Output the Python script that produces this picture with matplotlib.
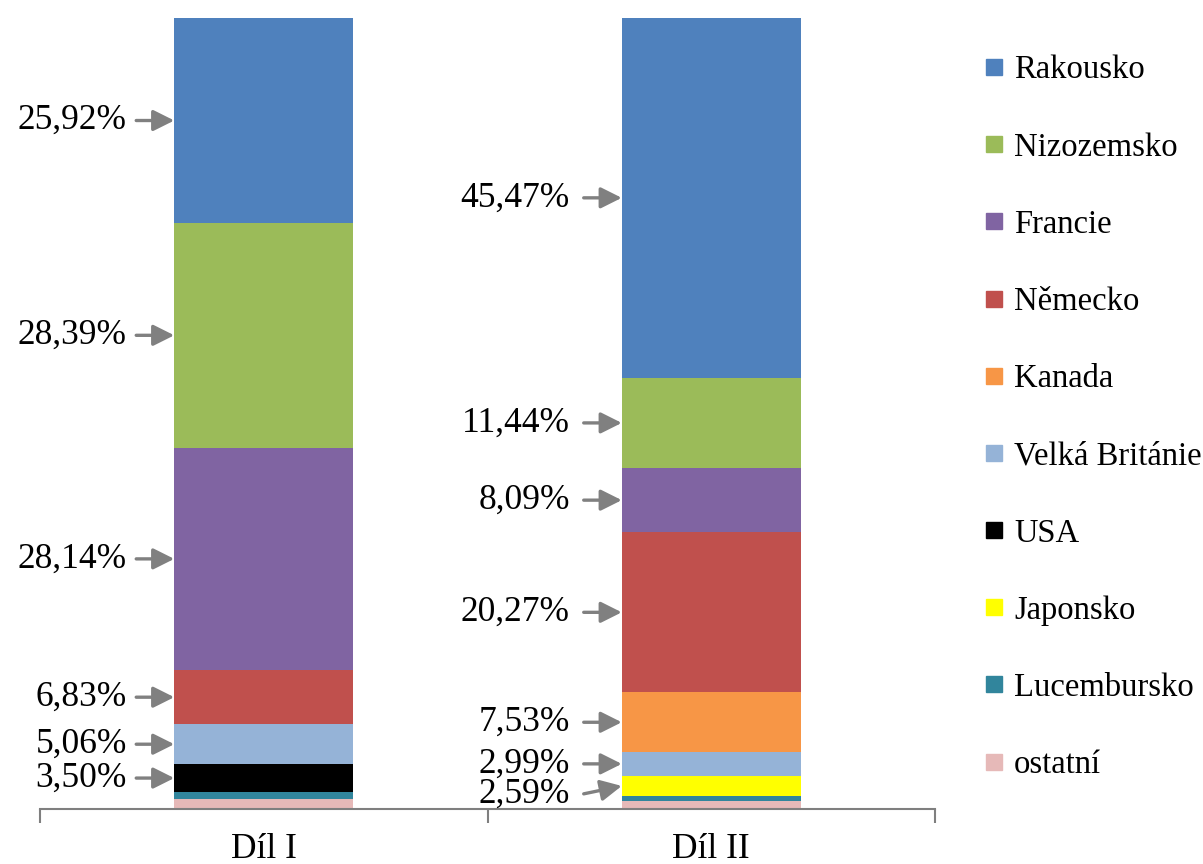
import matplotlib
matplotlib.use("Agg")
import matplotlib.pyplot as plt
from matplotlib.lines import Line2D

plt.rcParams["font.family"] = ["Liberation Serif", "DejaVu Serif"]

categories = ["Díl I", "Díl II"]
countries = ["Rakousko", "Nizozemsko", "Francie", "Německo", "Kanada",
             "Velká Británie", "USA", "Japonsko", "Lucembursko", "ostatní"]
colors = ["#4F81BD", "#9BBB59", "#8064A2", "#C0504D", "#F79646",
          "#95B3D7", "#000000", "#FFFF00", "#31859C", "#E6B9B8"]
# shares in %, stacked from top (Rakousko) to bottom (ostatní)
dil1 = [25.92, 28.39, 28.14, 6.83, 0.0, 5.06, 3.50, 0.0, 0.90, 1.26]
dil2 = [45.47, 11.44, 8.09, 20.27, 7.53, 2.99, 0.0, 2.59, 0.65, 0.97]
# which segments carry a label
shown1 = ["Rakousko", "Nizozemsko", "Francie", "Německo", "Velká Británie", "USA"]
shown2 = ["Rakousko", "Nizozemsko", "Francie", "Německo", "Kanada",
          "Velká Británie", "Japonsko"]

fig = plt.figure(figsize=(12.03, 8.64), dpi=100)
ax = fig.add_axes([40 / 1203, 55 / 864, 895 / 1203, 791 / 864])

W = 0.40
FS = 25.5
for xi, (vals, shown) in enumerate([(dil1, shown1), (dil2, shown2)]):
    # stack bottom-up: reversed order
    bottom = 0.0
    centers = {}
    for name, v, c in reversed(list(zip(countries, vals, colors))):
        if v > 0:
            ax.bar(xi, v, W, bottom=bottom, color=c, linewidth=0)
        centers[name] = bottom + v / 2
        bottom += v
    left = xi - W / 2
    for name in shown:
        v = vals[countries.index(name)]
        y = centers[name]
        ty = y
        if xi == 1 and name == "Japonsko":
            ty = y - 1.0
        ax.annotate("", xy=(left, y), xytext=(left - 0.085, ty),
                    arrowprops=dict(arrowstyle="-|>", color="#808080", lw=2.4,
                                    mutation_scale=32, shrinkA=0, shrinkB=0))
        ax.text(left - 0.106 - 0.01 * xi, ty, f"{v:.2f}%".replace(".", ","),
                ha="right", va="center", fontsize=FS)

ax.set_xlim(-0.5, 1.5)
ax.set_ylim(0, 100)
for s in ["top", "right", "left"]:
    ax.spines[s].set_visible(False)
ax.spines["bottom"].set_color("#7f7f7f")
ax.spines["bottom"].set_linewidth(1.5)
ax.set_yticks([])
ax.set_xticks([0, 1])
ax.set_xticklabels(categories, fontsize=FS)
ax.tick_params(axis="x", which="major", length=0, pad=17)
ax.set_xticks([-0.5, 0.5, 1.5], minor=True)
ax.tick_params(axis="x", which="minor", length=10, width=1.5, color="#7f7f7f")

handles = [Line2D([], [], marker="s", linestyle="none", markersize=12,
                  markerfacecolor=c, markeredgecolor=c) for c in colors]
fig.legend(handles, countries, loc="upper left", bbox_to_anchor=(983 / 1203, 1 - 55 / 864),
           frameon=False, fontsize=23.5, labelspacing=1.43, handlelength=0.7,
           handletextpad=0.25, borderpad=0, borderaxespad=0)

fig.savefig("out.png", dpi=100)
